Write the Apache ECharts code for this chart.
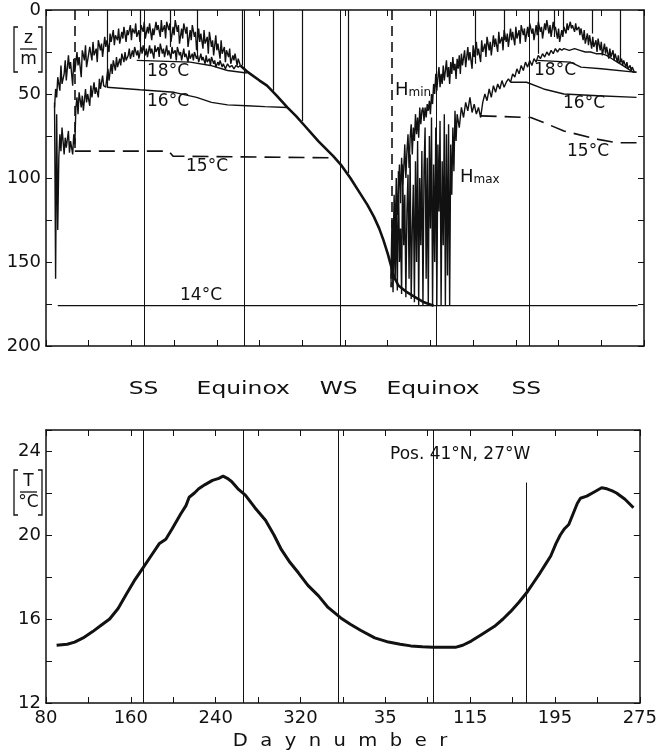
<!DOCTYPE html>
<html><head><meta charset="utf-8">
<script src="https://cdn.jsdelivr.net/npm/echarts@6/dist/echarts.min.js"></script>
<style>html,body{margin:0;padding:0;background:#fff}#c{width:660px;height:752px}</style>
</head><body><div id="c"></div>
<script>
// ---- tick labels / categories ----
const dayTickLabels = [80,160,240,320,35,115,195,275];
const depthTickLabels = [0,50,100,150,200];
const tempTickLabels = [12,16,20,24];
const seasonDays = [172,266,356,445,533];
const seasonNames = ['SS','Equinox','WS','Equinox','SS'];
const seasonLineTopTemp = [25,25,25,25,22.5];

// ---- mixed layer depths [day, depth m] ----
const hminLeft = [[88,58],[89,47],[90,52],[91,40],[93,48],[94,33],[95,44],[97,38],[98,30],[99,42],[101,27],[102,35],[103,31],[105,45],[106,29],[107,37],[109,25],[110,33],[111,28],[113,40],[114,24],[116,30],[117,21],[118,34],[120,26],[121,22],[123,30],[124,19],[125,27],[127,23],[128,31],[129,18],[131,24],[132,20],[133,28],[135,16],[136,22],[137,18],[139,25],[140,14],[141,19],[143,12],[144,21],[145,15],[147,18],[148,11],[149,20],[151,13],[152,17],[153,10],[155,19],[156,12],[157,15],[159,9],[160,18],[161,11],[163,14],[164,8],[165,16],[167,12],[168,19],[169,9],[171,13],[172,7],[173,17],[175,10],[176,14],[177,8],[179,18],[180,11],[181,15],[183,7],[184,12],[185,9],[187,16],[188,6],[189,13],[191,9],[192,17],[193,7],[195,12],[196,8],[197,19],[199,10],[200,15],[201,6],[203,13],[204,9],[205,20],[207,11],[208,17],[209,8],[211,14],[212,10],[213,22],[215,12],[216,18],[217,9],[219,16],[220,13],[221,24],[223,11],[224,19],[225,14],[227,23],[228,12],[229,20],[231,16],[232,26],[233,13],[235,22],[236,18],[237,27],[239,15],[240,24],[241,20],[243,29],[244,18],[245,26],[247,22],[248,31],[249,24],[251,28],[252,23],[253,32],[255,27],[256,30],[257,26],[259,33],[260,29],[262,33]];
const hmaxLeft = [[88,55],[89,160],[90,62],[91,131],[92,88],[93,74],[94,84],[95,70],[97,86],[98,76],[99,82],[101,72],[102,85],[103,78],[105,86],[106,74],[107,80],[108,58],[109,52],[110,62],[111,49],[113,58],[114,51],[115,60],[117,47],[118,55],[119,50],[121,57],[122,45],[123,52],[125,43],[126,50],[127,46],[129,52],[130,41],[131,47],[133,39],[134,45],[136,46],[137,40],[138,35],[139,42],[141,32],[142,38],[143,30],[145,36],[146,28],[147,34],[149,29],[150,33],[151,26],[153,31],[154,25],[155,30],[157,27],[158,23],[159,29],[161,24],[162,28],[163,22],[165,27],[166,24],[167,29],[169,22],[170,26],[171,21],[173,27],[174,23],[175,28],[177,21],[178,26],[179,23],[181,29],[182,21],[183,25],[185,22],[186,28],[187,20],[189,26],[190,23],[191,28],[193,21],[194,27],[195,24],[197,29],[198,22],[199,26],[201,24],[202,30],[203,22],[205,27],[206,25],[207,30],[209,23],[210,28],[211,26],[213,31],[214,24],[215,29],[217,26],[218,30],[219,25],[221,29],[222,27],[223,31],[225,26],[226,30],[227,28],[229,32],[230,27],[231,31],[233,29],[234,33],[235,28],[237,32],[238,30],[239,34],[241,31],[242,33],[243,30],[245,34],[246,32],[248,35],[250,32],[252,34],[254,33],[256,35],[258,33],[260,34],[262,33]];
const winterDeepening = [[262,33],[269,37],[280,42],[287,45],[296,51],[306,58],[314,63],[321,68],[335,78],[349,87],[356,92],[365,100],[374,109],[381,116],[387,123],[392,130],[396,137],[400,145],[403,152],[406,159],[410,164],[418,168],[426,171],[434,174],[443,176]];
const hminRight = [[403,160],[404,125],[405,145],[406,110],[407,135],[408,100],[409,122],[410,108],[411,92],[412,115],[413,88],[414,104],[415,95],[416,80],[417,100],[418,84],[419,74],[420,94],[421,76],[422,68],[423,86],[424,70],[425,78],[426,62],[427,74],[428,64],[429,76],[430,58],[431,68],[432,60],[433,58],[434,66],[435,58],[436,64],[437,56],[438,60],[439,54],[440,62],[441,50],[442,56],[443,44],[444,50],[445,38],[446,48],[447,40],[448,34],[449,46],[450,38],[451,44],[452,33],[453,42],[454,36],[455,30],[456,40],[457,34],[458,44],[459,31],[460,38],[461,28],[462,36],[463,32],[464,41],[465,29],[466,35],[467,27],[468,38],[469,26],[470,33],[472,24],[473,34],[475,22],[476,30],[477,25],[479,35],[480,21],[481,28],[483,19],[484,27],[485,23],[487,31],[488,18],[489,25],[491,20],[492,28],[493,16],[495,24],[496,19],[497,27],[499,15],[500,22],[501,17],[503,25],[504,13],[505,20],[507,16],[508,24],[509,12],[511,19],[512,14],[513,22],[515,11],[516,18],[517,13],[519,21],[520,10],[521,17],[523,12],[524,20],[525,9],[527,15],[528,11],[529,19],[531,10],[532,16],[533,8],[535,14],[536,11],[537,18],[539,9],[540,15],[541,7],[543,13],[544,10],[545,17],[547,8],[548,12],[549,6],[551,14],[552,9],[553,16],[555,7],[556,12],[557,10],[559,17],[560,11],[561,19],[563,12],[564,16],[565,10],[567,14],[568,8],[569,12],[571,7],[572,11],[573,9],[575,13],[576,8],[577,12],[579,10],[580,15],[581,11],[583,18],[584,12],[585,20],[587,14],[588,21],[589,15],[591,23],[592,16],[593,22],[595,18],[596,25],[597,17],[599,24],[600,19],[601,27],[603,20],[604,26],[605,22],[607,29],[608,23],[609,28],[611,24],[612,30],[613,26],[615,31],[616,27],[617,32],[619,29],[620,33],[621,30],[623,34],[624,31],[625,35],[627,33],[628,36],[629,34],[631,37],[633,37]];
const hmaxRight = [[403,165],[404,140],[405,168],[406,126],[407,160],[408,118],[409,167],[410,96],[411,150],[412,130],[413,169],[414,92],[415,140],[416,110],[417,171],[418,120],[419,98],[420,160],[421,86],[422,172],[423,130],[424,104],[425,174],[426,90],[427,150],[428,78],[429,176],[430,100],[431,140],[432,84],[433,176],[434,96],[435,70],[436,160],[437,88],[438,176],[439,75],[440,130],[441,64],[442,176],[443,92],[444,150],[445,70],[446,176],[447,80],[448,120],[449,66],[450,176],[451,90],[452,140],[453,62],[454,176],[455,74],[456,158],[457,68],[458,176],[459,80],[460,110],[461,70],[462,96],[463,60],[464,78],[465,62],[467,70],[469,58],[471,64],[473,55],[475,60],[477,52],[479,61],[481,56],[483,62],[485,58],[487,64],[489,55],[491,50],[493,54],[495,47],[497,52],[499,45],[501,49],[503,44],[505,47],[507,42],[509,46],[511,43],[513,41],[515,43],[517,38],[519,40],[521,35],[523,38],[525,33],[527,36],[529,31],[531,34],[533,30],[535,33],[537,29],[539,31],[541,27],[543,29],[545,26],[547,28],[549,25],[551,27],[553,24],[555,26],[557,23],[559,25],[561,23],[563,24],[565,23],[570,24],[575,23],[580,24],[585,25],[590,25],[595,26],[600,26],[605,27],[610,29],[615,31],[620,33],[625,35],[630,37],[633,37]];
const surfaceSpikeDays = [137,168,196,222,264,293,320,363,482,509,541,556,564,592,618];
const surfaceSpikeDepths = [46,24,22,28,33,48,66,97,32,18,26,16,14,14,31];
const gapDays = [107,404];
const gapDepths = [84,165];

// ---- isotherm depths [day, depth m] ----
const iso18Left = [[165,30],[215,31],[234,33],[250,36],[268,37.5]];
const iso18Right = [[540,30],[571,31],[581,34],[600,35],[631,37]];
const iso16Left = [[137,46],[168,47.5],[200,49],[221,52],[235,55],[250,56.5],[268,57],[285,57.5],[306,58]];
const iso16Right = [[515,43],[530,43],[546,47],[565,50],[597,51],[633,52]];
const iso15Left = [[107,84],[195,84],[199,87],[349,88]];
const iso15Right = [[487,63],[534,64],[546,67],[565,72],[597,77],[615,79],[633,79]];
const iso14 = [[91,176],[634,176]];

// ---- surface temperature [day, degC] ----
const sst = [[90,14.75],[100,14.8],[107,14.9],[115,15.1],[124,15.4],[132,15.7],[140,16.0],[148,16.5],[156,17.2],[163,17.8],[171,18.4],[179,19.0],[187,19.6],[193,19.8],[199,20.3],[207,21.0],[212,21.4],[215,21.8],[220,22.0],[224,22.2],[230,22.4],[237,22.6],[243,22.7],[247,22.8],[251,22.7],[255,22.55],[261,22.2],[268,21.9],[277,21.3],[287,20.7],[295,20.0],[302,19.3],[310,18.7],[318,18.2],[327,17.6],[337,17.1],[346,16.55],[352,16.3],[358,16.05],[367,15.75],[377,15.45],[390,15.1],[403,14.9],[414,14.8],[424,14.72],[435,14.68],[445,14.65],[455,14.65],[466,14.65],[473,14.75],[481,14.95],[492,15.3],[503,15.65],[511,16.0],[518,16.35],[526,16.8],[534,17.3],[540,17.75],[546,18.2],[551,18.6],[556,19.0],[561,19.6],[565,20.0],[569,20.3],[573,20.5],[577,21.0],[581,21.5],[584,21.75],[590,21.85],[597,22.05],[604,22.25],[609,22.2],[614,22.1],[618,22.0],[626,21.7],[634,21.3]];

const FONT = 'DejaVu Sans';
const INK = '#111';
const chart = echarts.init(document.getElementById('c'), null, {renderer:'canvas'});

function xAx(grid, pos, labels){
  return {type:'value', gridIndex:grid, position:pos, min:80, max:640, interval:40,
    axisLine:{show:true, onZero:false, lineStyle:{color:INK, width:1.5}},
    axisTick:{show:true, inside:true, length:6, lineStyle:{color:INK, width:1}},
    splitLine:{show:false},
    axisLabel:{show:labels, color:INK, fontFamily:FONT, fontSize:18, margin:6,
      formatter:v => ((v-80)%80===0 ? String(dayTickLabels[(v-80)/80]) : '')}};
}
function yAx(grid, pos, min, max, interval, labelEvery, inverse, labels){
  return {type:'value', gridIndex:grid, position:pos, min, max, interval, inverse,
    axisLine:{show:true, onZero:false, lineStyle:{color:INK, width:1.5}},
    axisTick:{show:true, inside:true, length:6, lineStyle:{color:INK, width:1}},
    splitLine:{show:false},
    axisLabel:{show:labels, color:INK, fontFamily:FONT, fontSize:18, margin:5,
      formatter:v => ((v-min)%labelEvery===0 && v<=max ? String(v) : '')}};
}
function ln(data, o){
  return Object.assign({type:'line', data, symbol:'none', showSymbol:false, silent:true,
    xAxisIndex:0, yAxisIndex:0, lineStyle:{color:INK, width:1.4}, z:3}, o||{});
}
function segs(list, xi, yi, style){
  return {type:'lines', coordinateSystem:'cartesian2d', xAxisIndex:xi, yAxisIndex:yi,
    data:list.map(c => ({coords:c})), silent:true,
    lineStyle:Object.assign({color:INK, width:1, opacity:1, curveness:0}, style)};
}

const option = {
  animation:false,
  backgroundColor:'#fff',
  grid:[
    {left:46, top:10, width:598, height:336},
    {left:46, top:430, width:598, height:273}
  ],
  xAxis:[xAx(0,'bottom',false), xAx(0,'top',false), xAx(1,'bottom',true), xAx(1,'top',false)],
  yAxis:[yAx(0,'left',0,200,25,50,true,true), yAx(0,'right',0,200,25,50,true,false),
         yAx(1,'left',12,25,2,4,false,true), yAx(1,'right',12,25,2,4,false,false)],
  series:[
    segs(seasonDays.map(d => [[d,0],[d,200]]), 0, 0, {width:1}),
    segs(seasonDays.map((d,i) => [[d,12],[d,seasonLineTopTemp[i]]]), 2, 2, {width:1}),
    segs(surfaceSpikeDays.map((d,i) => [[d,0],[d,surfaceSpikeDepths[i]]]), 0, 0, {width:1.2}),
    segs(gapDays.map((d,i) => [[d,0],[d,gapDepths[i]]]), 0, 0, {width:1.6, type:[10,6]}),
    ln(hminLeft), ln(hmaxLeft), ln(hminRight), ln(hmaxRight),
    ln(winterDeepening, {lineStyle:{color:INK, width:2.6}}),
    ln(iso18Left, {lineStyle:{color:INK, width:1.4}}),
    ln(iso18Right, {lineStyle:{color:INK, width:1.4}}),
    ln(iso16Left, {lineStyle:{color:INK, width:1.4}}),
    ln(iso16Right, {lineStyle:{color:INK, width:1.4}}),
    ln(iso15Left, {lineStyle:{color:INK, width:1.6, type:[16,8]}}),
    ln(iso15Right, {lineStyle:{color:INK, width:1.6, type:[16,8]}}),
    ln(iso14, {lineStyle:{color:INK, width:1.2}}),
    ln(sst, {xAxisIndex:2, yAxisIndex:2, lineStyle:{color:INK, width:3}})
  ]
};
chart.setOption(option);

function txt(x, y, text, size, extra){
  return Object.assign({type:'text', x, y, silent:true,
    style:{text, fill:INK, font:size+'px "'+FONT+'"', textAlign:'center', textVerticalAlign:'middle'}}, extra||{});
}
const g = [];
seasonDays.forEach((d,i) => {
  const x = chart.convertToPixel({xAxisIndex:2}, d);
  g.push(txt(x, 389, seasonNames[i], 18, {scaleX:1.3}));
});
g.push(txt(340, 742, 'D  a  y  n  u  m  b  e  r', 17, {scaleX:1.15}));
// isotherm labels
[['18°C',168,72],['16°C',168,102],['15°C',207,167],['14°C',201,296],
 ['18°C',555,71],['16°C',584,104],['15°C',588,152]].forEach(a => g.push(txt(a[1], a[2], a[0], 17)));
g.push({type:'text', x:395, y:90, silent:true, z:10, style:{text:'{h|H}{s|min}', fill:INK, textVerticalAlign:'middle',
  rich:{h:{font:'18px "'+FONT+'"', fill:INK, verticalAlign:'bottom'}, s:{font:'12px "'+FONT+'"', fill:INK, verticalAlign:'bottom'}}}});
g.push({type:'text', x:460, y:177, silent:true, z:10, style:{text:'{h|H}{s|max}', fill:INK, textVerticalAlign:'middle',
  rich:{h:{font:'18px "'+FONT+'"', fill:INK, verticalAlign:'bottom'}, s:{font:'12px "'+FONT+'"', fill:INK, verticalAlign:'bottom'}}}});
g.push({type:'text', x:390, y:455, silent:true, style:{text:'Pos. 41°N, 27°W', fill:INK, font:'17px "'+FONT+'"', textVerticalAlign:'middle'}});
// bracketed unit labels
function unit(top, num, den){
  const bot = top + 45, mid = top + 22;
  g.push({type:'polyline', silent:true, shape:{points:[[18,top],[14,top],[14,bot],[18,bot]]}, style:{stroke:INK, lineWidth:1.3, fill:null}});
  g.push({type:'polyline', silent:true, shape:{points:[[38,top],[42,top],[42,bot],[38,bot]]}, style:{stroke:INK, lineWidth:1.3, fill:null}});
  g.push({type:'line', silent:true, shape:{x1:20, y1:mid, x2:37, y2:mid}, style:{stroke:INK, lineWidth:1.3}});
  g.push(txt(28.5, mid-10, num, 17));
  g.push(txt(28.5, mid+11, den, 17));
}
unit(27, 'z', 'm');
unit(470, 'T', '°C');
chart.setOption({graphic:g});
</script></body></html>
